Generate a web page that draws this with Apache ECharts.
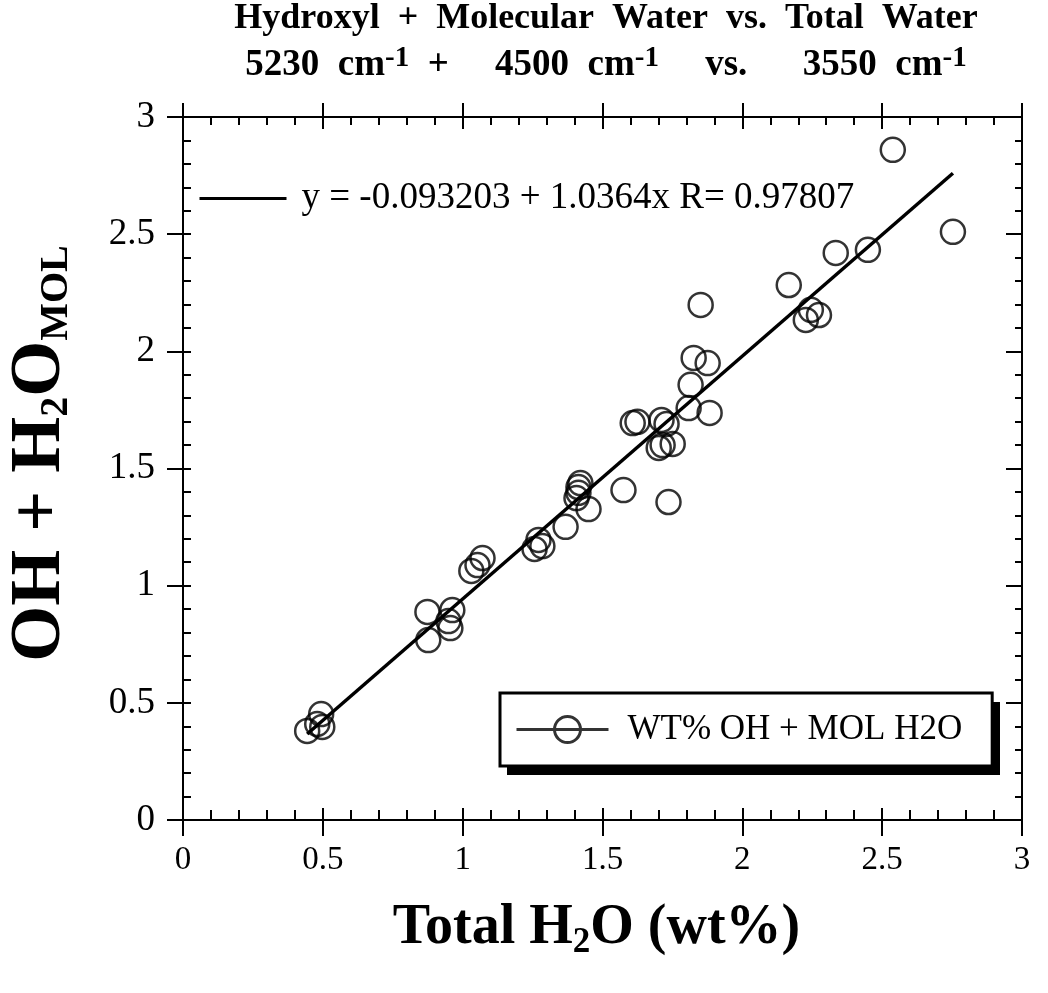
<!DOCTYPE html>
<html>
<head>
<meta charset="utf-8">
<script src="https://cdn.jsdelivr.net/npm/echarts@6/dist/echarts.min.js"></script>
<style>
html,body{margin:0;padding:0;background:#fff;}
#chart{width:1048px;height:993px;}
</style>
</head>
<body>
<div id="chart"></div>
<script>
// ---- data ----
const totalH2O = [0.444,0.494,0.498,0.480,0.874,0.877,0.963,0.949,0.956,1.031,1.071,1.053,
  1.257,1.271,1.285,1.368,1.450,1.414,1.414,1.407,1.421,1.575,1.736,1.608,1.625,1.711,1.729,
  1.701,1.715,1.751,1.808,1.883,1.815,1.826,1.876,1.851,2.166,2.227,2.245,2.274,2.334,2.449,2.538,2.753];
const ohPlusMol = [0.380,0.452,0.397,0.410,0.888,0.768,0.896,0.849,0.819,1.063,1.118,1.088,
  1.157,1.195,1.169,1.251,1.327,1.421,1.396,1.374,1.438,1.408,1.357,1.694,1.699,1.707,1.690,
  1.588,1.600,1.605,1.758,1.737,1.857,1.972,1.950,2.198,2.283,2.134,2.177,2.155,2.420,2.433,2.860,2.510];
const fitIntercept = -0.093203;
const fitSlope = 1.0364;
const fitR = 0.97807;
const axisMin = 0, axisMax = 3, axisStep = 0.5;
const seriesName = 'WT% OH + MOL H2O';
const fitName = 'y = ' + fitIntercept + ' + ' + fitSlope + 'x R= ' + fitR;

const points = totalH2O.map((x, i) => [x, ohPlusMol[i]]);
const fx0 = Math.min(...totalH2O), fx1 = Math.max(...totalH2O);
const fitLine = [[fx0, fitIntercept + fitSlope * fx0], [fx1, fitIntercept + fitSlope * fx1]];

const FONT = "'Liberation Serif','Times New Roman',serif";

function baseAxis(extra) {
  return Object.assign({
    type: 'value', min: axisMin, max: axisMax, interval: axisStep,
    axisLine: {show: true, onZero: false, lineStyle: {color: '#000', width: 2}},
    splitLine: {show: false},
    axisLabel: {show: false},
    axisTick: {show: false},
    minorTick: {show: false}
  }, extra);
}

const chart = echarts.init(document.getElementById('chart'));
chart.setOption({
  backgroundColor: '#fff',
  animation: false,
  title: {
    left: 606,
    top: 0,
    textAlign: 'center',
    padding: 0,
    itemGap: 6,
    text: 'Hydroxyl  +  Molecular  Water  vs.  Total  Water',
    textStyle: {fontFamily: FONT, fontWeight: 'bold', fontSize: 36, color: '#000', lineHeight: 38},
    subtext: '{n|5230  cm}{s|-1}{n|  +     4500  cm}{s|-1}{n|     vs.      3550  cm}{s|-1}',
    subtextStyle: {
      rich: {
        n: {fontFamily: FONT, fontWeight: 'bold', fontSize: 37, color: '#000', lineHeight: 42},
        s: {fontFamily: FONT, fontWeight: 'bold', fontSize: 29, color: '#000', lineHeight: 32, verticalAlign: 'top'}
      }
    }
  },
  grid: {left: 183, right: 26, top: 117, bottom: 173, outerBoundsMode: 'none', containLabel: false},
  graphic: [
    {type: 'rect', left: 507, top: 702, z: 3, silent: true,
     shape: {width: 493, height: 73}, style: {fill: '#000'}}
  ],
  legend: [
    {
      data: [fitName],
      left: 198, top: 180,
      padding: 0,
      itemWidth: 87, itemHeight: 20,
      itemStyle: {opacity: 0},
      lineStyle: {color: '#000', width: 3},
      textStyle: {fontFamily: FONT, fontSize: 37, color: '#000', padding: [0, 0, 0, 10]},
      selectedMode: false
    },
    {
      data: [{
        name: seriesName,
        icon: 'path://M0,13 L92,13 M64,13 A13,13 0 1 1 38,13 A13,13 0 1 1 64,13',
        itemStyle: {color: 'rgba(0,0,0,0)', borderColor: '#000', borderWidth: 3}
      }],
      left: 500, top: 693,
      padding: [19, 30, 19, 15],
      itemWidth: 92, itemHeight: 26,
      backgroundColor: '#fff',
      borderColor: '#000', borderWidth: 3, borderRadius: 0,
      textStyle: {fontFamily: FONT, fontSize: 35, color: '#000', padding: [0, 0, 0, 14]},
      selectedMode: false,
      z: 6
    }
  ],
  xAxis: [
    baseAxis({
      position: 'bottom',
      axisTick: {show: true, inside: false, length: 16, lineStyle: {color: '#000', width: 2}},
      axisLabel: {show: true, margin: 24, fontFamily: FONT, fontSize: 33, color: '#000'},
      name: '{a|Total H}{s|2}{a|O (wt%)}',
      nameLocation: 'middle',
      nameGap: 78,
      nameTextStyle: {
        padding: [0, 12, 0, 0],
        rich: {
          a: {fontFamily: FONT, fontWeight: 'bold', fontSize: 56, color: '#000', lineHeight: 62},
          s: {fontFamily: FONT, fontWeight: 'bold', fontSize: 35, color: '#000', lineHeight: 30, verticalAlign: 'bottom'}
        }
      }
    }),
    baseAxis({
      position: 'bottom',
      axisTick: {show: true, inside: true, length: 12, lineStyle: {color: '#000', width: 2}},
      minorTick: {show: true, splitNumber: 5, length: 10, lineStyle: {color: '#000', width: 2}}
    }),
    baseAxis({
      position: 'top',
      axisTick: {show: true, inside: false, length: 14, lineStyle: {color: '#000', width: 2}}
    }),
    baseAxis({
      position: 'top',
      axisTick: {show: true, inside: true, length: 12, lineStyle: {color: '#000', width: 2}},
      minorTick: {show: true, splitNumber: 5, length: 8, lineStyle: {color: '#000', width: 2}}
    })
  ],
  yAxis: [
    baseAxis({
      position: 'left',
      axisTick: {show: true, inside: false, length: 16, lineStyle: {color: '#000', width: 2}},
      axisLabel: {show: true, margin: 28, fontFamily: FONT, fontSize: 37, color: '#000'},
      name: '{a|OH + H}{s|2}{a|O}{s|MOL}',
      nameLocation: 'middle',
      nameRotate: 90,
      nameGap: 106,
      nameTextStyle: {
        padding: [0, 0, 0, 30],
        rich: {
          a: {fontFamily: FONT, fontWeight: 'bold', fontSize: 72, color: '#000', lineHeight: 74},
          s: {fontFamily: FONT, fontWeight: 'bold', fontSize: 40, color: '#000', lineHeight: 34, verticalAlign: 'bottom'}
        }
      }
    }),
    baseAxis({
      position: 'left',
      axisTick: {show: true, inside: true, length: 8, lineStyle: {color: '#000', width: 2}},
      minorTick: {show: true, splitNumber: 5, length: 8, lineStyle: {color: '#000', width: 2}}
    }),
    baseAxis({
      position: 'right',
      axisTick: {show: true, inside: true, length: 16, lineStyle: {color: '#000', width: 2}},
      minorTick: {show: true, splitNumber: 5, length: 7, lineStyle: {color: '#000', width: 2}}
    })
  ],
  series: [
    {
      name: seriesName,
      type: 'scatter',
      xAxisIndex: 0, yAxisIndex: 0,
      data: points,
      symbol: 'circle',
      symbolSize: 24,
      itemStyle: {color: 'rgba(0,0,0,0)', borderColor: '#000', borderWidth: 2.5},
      emphasis: {disabled: true}
    },
    {
      name: fitName,
      type: 'line',
      xAxisIndex: 0, yAxisIndex: 0,
      data: fitLine,
      symbol: 'none',
      lineStyle: {color: '#000', width: 3.5},
      itemStyle: {color: '#000'},
      emphasis: {disabled: true},
      z: 3
    }
  ]
});
</script>
</body>
</html>
